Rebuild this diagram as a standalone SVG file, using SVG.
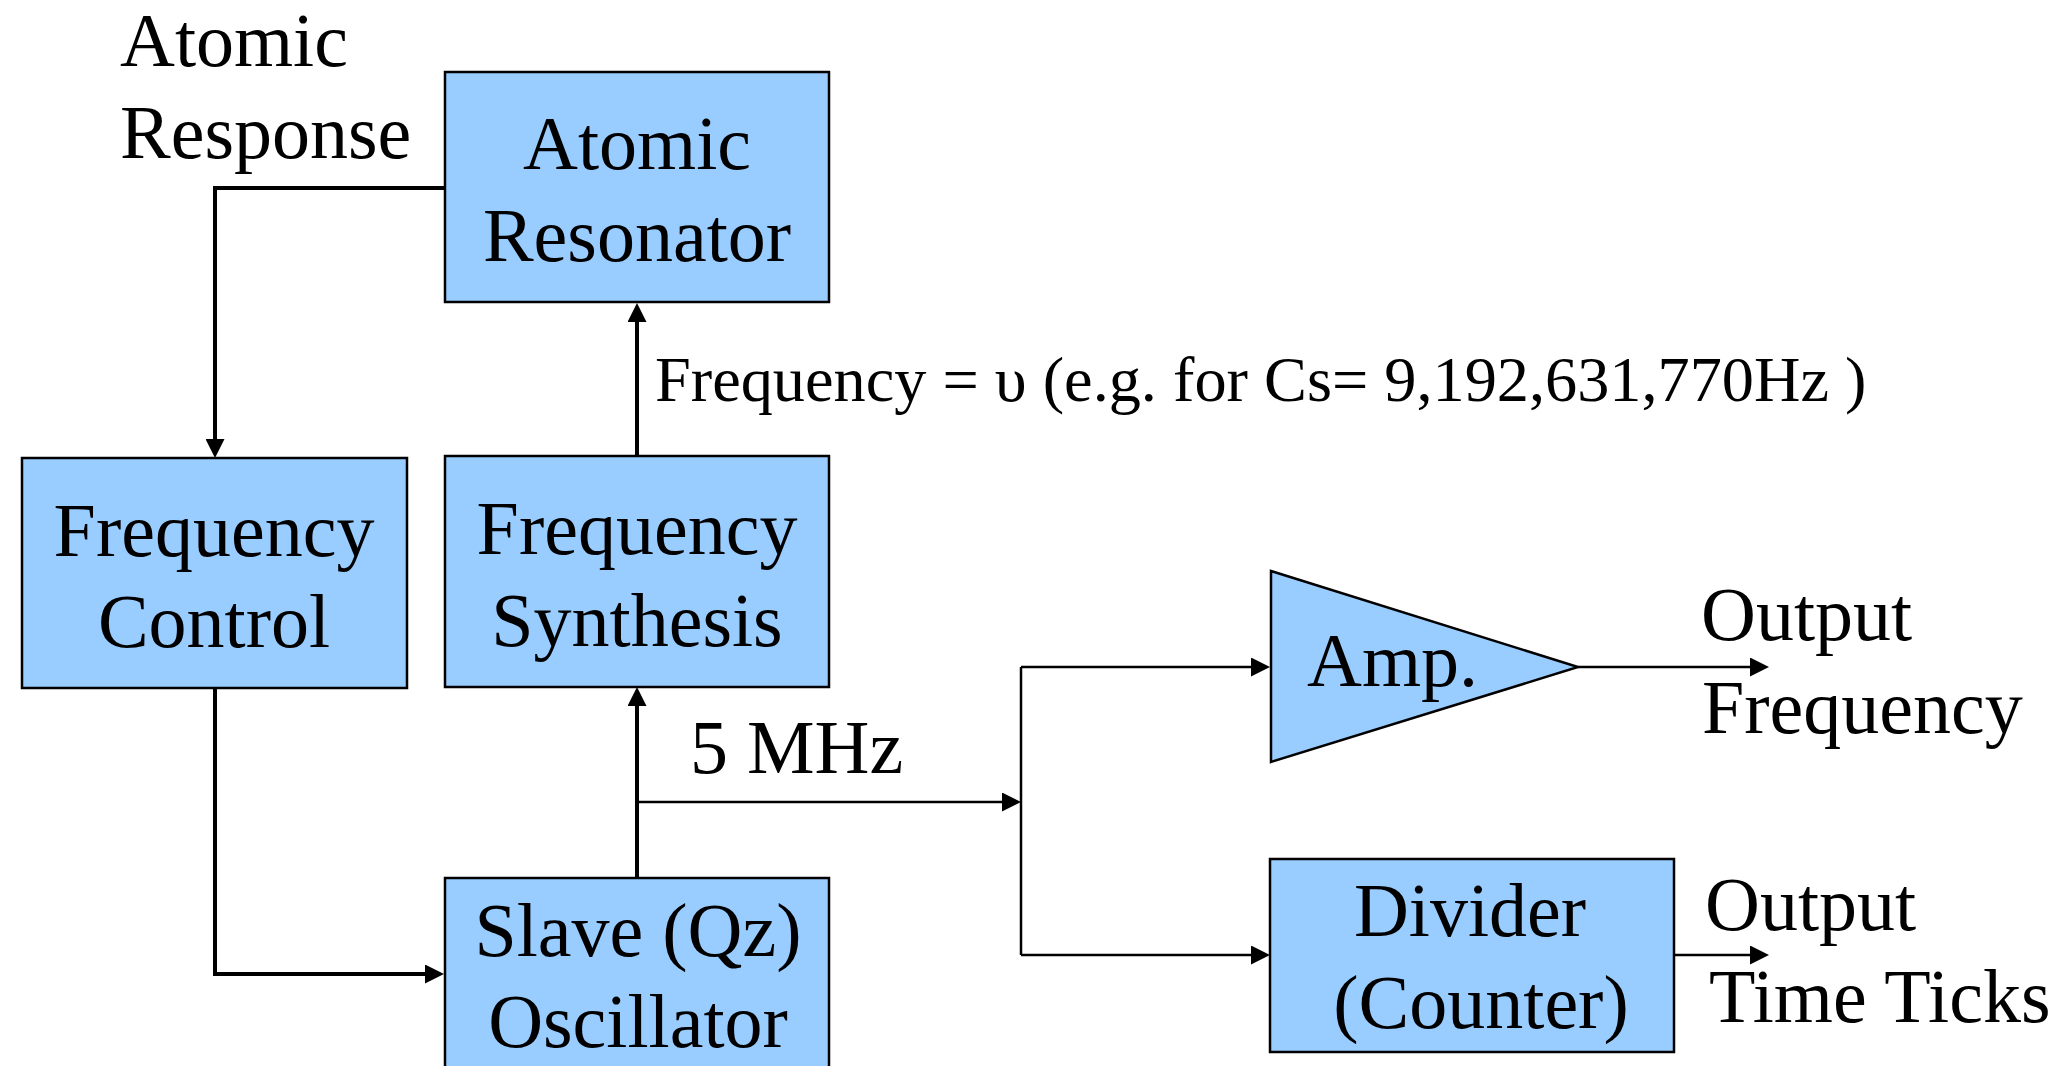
<svg xmlns="http://www.w3.org/2000/svg" width="2060" height="1066" viewBox="0 0 2060 1066">
  <style>
    .box { fill: #99ccff; stroke: #000000; stroke-width: 2.5; }
    .t { font-family: "Liberation Serif", "Times New Roman", serif; font-size: 76px; fill: #000000; }
    .c { text-anchor: middle; }
    .thick { fill: none; stroke: #000000; stroke-width: 4; }
    .thin { fill: none; stroke: #000000; stroke-width: 2.5; }
  </style>
  <defs>
    <marker id="arrow" markerUnits="userSpaceOnUse" markerWidth="19" markerHeight="19" viewBox="0 0 19 19" refX="0" refY="9.5" orient="auto">
      <path d="M0,0 L19,9.5 L0,19 z" fill="#000000"/>
    </marker>
  </defs>
  <rect width="2060" height="1066" fill="#ffffff"/>

  <g id="connectors">
    <path class="thick" d="M445,188 H215 V439" marker-end="url(#arrow)"/>
    <path class="thick" d="M215,688 V974 H425" marker-end="url(#arrow)"/>
    <path class="thick" d="M637,878 V706" marker-end="url(#arrow)"/>
    <path class="thick" d="M637,456 V322" marker-end="url(#arrow)"/>
    <path class="thin" d="M637,802 H1002" marker-end="url(#arrow)"/>
    <path class="thin" d="M1021,667 V955"/>
    <path class="thin" d="M1021,667 H1251" marker-end="url(#arrow)"/>
    <path class="thin" d="M1021,955 H1251" marker-end="url(#arrow)"/>
    <path class="thin" d="M1578,667 H1750" marker-end="url(#arrow)"/>
    <path class="thin" d="M1674,955 H1750" marker-end="url(#arrow)"/>
  </g>

  <g id="atomic-resonator">
    <rect class="box" x="445" y="72" width="384" height="230"/>
    <text class="t c" x="637" y="169">Atomic</text>
    <text class="t c" x="637" y="261">Resonator</text>
  </g>

  <g id="frequency-control">
    <rect class="box" x="22" y="458" width="385" height="230"/>
    <text class="t c" x="214" y="556">Frequency</text>
    <text class="t c" x="214" y="647">Control</text>
  </g>

  <g id="frequency-synthesis">
    <rect class="box" x="445" y="456" width="384" height="231"/>
    <text class="t c" x="637" y="554">Frequency</text>
    <text class="t c" x="637" y="646">Synthesis</text>
  </g>

  <g id="slave-oscillator">
    <rect class="box" x="445" y="878" width="384" height="200"/>
    <text class="t c" x="638" y="956">Slave (Qz)</text>
    <text class="t c" x="638" y="1047">Oscillator</text>
  </g>

  <g id="amp">
    <polygon class="box" points="1271,571 1578,667 1271,762"/>
    <text class="t" x="1307" y="686">Amp.</text>
  </g>

  <g id="divider">
    <rect class="box" x="1270" y="859" width="404" height="193"/>
    <text class="t c" x="1470" y="936">Divider</text>
    <text class="t c" x="1481" y="1028">(Counter)</text>
  </g>

  <g id="labels">
    <text class="t" x="120" y="66">Atomic</text>
    <text class="t" x="120" y="158">Response</text>
    <text class="t" x="655" y="401" style="font-size:64.3px">Frequency = υ (e.g. for Cs= 9,192,631,770Hz )</text>
    <text class="t" x="690" y="773">5 MHz</text>
    <text class="t" x="1701" y="640">Output</text>
    <text class="t" x="1702" y="733">Frequency</text>
    <text class="t" x="1705" y="930">Output</text>
    <text class="t" x="1709" y="1022">Time Ticks</text>
  </g>
</svg>
